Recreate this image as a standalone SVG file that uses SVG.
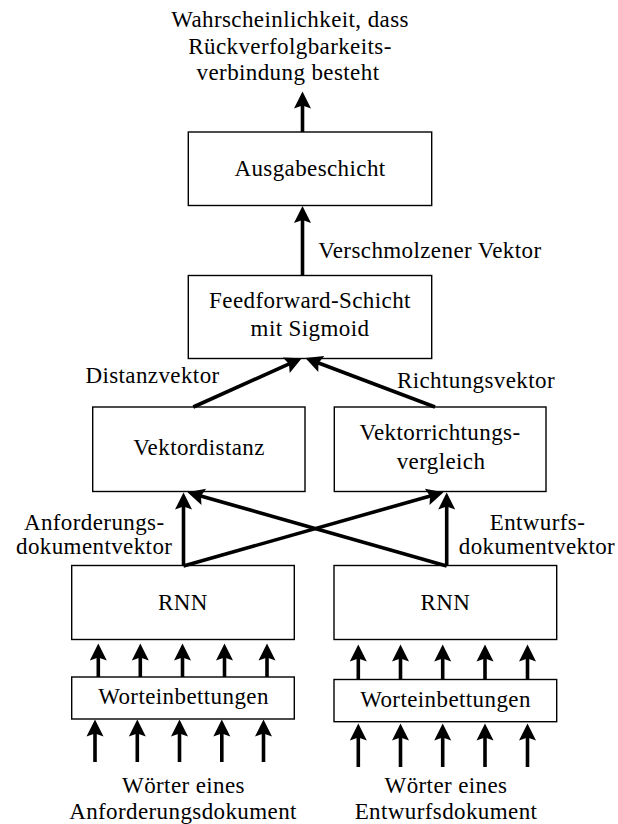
<svg xmlns="http://www.w3.org/2000/svg" width="618" height="824" viewBox="0 0 618 824">
<defs>
<marker id="ah" markerUnits="userSpaceOnUse" orient="auto" refX="0" refY="0" markerWidth="40" markerHeight="40" viewBox="-20 -20 40 40" overflow="visible">
<path d="M12,0 L-5,-8.5 L-2,0 L-5,8.5 Z" fill="#000"/>
</marker>
<style>
.box{fill:#fff;stroke:#000;stroke-width:1.4}
.t{font-family:"Liberation Serif","DejaVu Serif",serif;font-size:23px;letter-spacing:0.4px;fill:#000;text-anchor:middle}
.ts{font-family:"Liberation Serif","DejaVu Serif",serif;font-size:23px;letter-spacing:0.4px;fill:#000}
.a{stroke:#000;stroke-width:3.6;fill:none;marker-end:url(#ah)}
</style>
</defs>
<rect width="618" height="824" fill="#fff"/>

<g id="output-label">
<text class="t" x="290" y="26.7">Wahrscheinlichkeit, dass</text>
<text class="t" x="290" y="54">Rückverfolgbarkeits-</text>
<text class="t" x="288" y="80">verbindung besteht</text>
</g>

<g id="ausgabeschicht">
<rect class="box" x="188.3" y="132" width="243.4" height="73.5"/>
<text class="t" x="310" y="176">Ausgabeschicht</text>
</g>

<g id="feedforward">
<rect class="box" x="188.3" y="275.5" width="243.4" height="83"/>
<text class="t" x="310" y="308">Feedforward-Schicht</text>
<text class="t" x="310" y="336">mit Sigmoid</text>
</g>

<g id="vektordistanz">
<rect class="box" x="92.7" y="407" width="212.3" height="84.5"/>
<text class="t" x="199" y="455">Vektordistanz</text>
</g>

<g id="vektorrichtung">
<rect class="box" x="334.3" y="407" width="211.7" height="84.5"/>
<text class="t" x="440" y="440">Vektorrichtungs-</text>
<text class="t" x="441" y="468.5">vergleich</text>
</g>

<g id="rnn-links">
<rect class="box" x="71.7" y="565.5" width="222.6" height="74"/>
<text class="t" x="183" y="610">RNN</text>
</g>

<g id="rnn-rechts">
<rect class="box" x="334" y="565.5" width="222.7" height="74"/>
<text class="t" x="445.3" y="610">RNN</text>
</g>

<g id="wort-links">
<rect class="box" x="71.7" y="677" width="222.6" height="42"/>
<text class="t" x="183.5" y="704">Worteinbettungen</text>
</g>

<g id="wort-rechts">
<rect class="box" x="334" y="679.5" width="222.7" height="42.2"/>
<text class="t" x="445.5" y="707.3">Worteinbettungen</text>
</g>

<g id="input-links">
<text class="t" x="183.5" y="793.3">Wörter eines</text>
<text class="t" x="183" y="819.3">Anforderungsdokument</text>
</g>

<g id="input-rechts">
<text class="t" x="446" y="793.3">Wörter eines</text>
<text class="t" x="446" y="819.3">Entwurfsdokument</text>
</g>

<g id="connectors">
<line class="a" x1="302.5" y1="132" x2="302.5" y2="103.5"/>
<line class="a" x1="302.5" y1="275.5" x2="302.5" y2="218"/>
<line class="a" x1="193.3" y1="407" x2="290.8" y2="363.2"/>
<line class="a" x1="435" y1="407" x2="316.6" y2="362.2"/>
<line class="a" x1="183.5" y1="566" x2="183.5" y2="504.5"/>
<line class="a" x1="446.7" y1="566" x2="446.7" y2="504.5"/>
<line class="a" x1="183.5" y1="566" x2="432" y2="495.5"/>
<line class="a" x1="446.7" y1="566" x2="199" y2="495.5"/>

<line class="a" x1="98.3" y1="677" x2="98.3" y2="655.5"/>
<line class="a" x1="140.3" y1="677" x2="140.3" y2="655.5"/>
<line class="a" x1="182.5" y1="677" x2="182.5" y2="655.5"/>
<line class="a" x1="224.5" y1="677" x2="224.5" y2="655.5"/>
<line class="a" x1="267" y1="677" x2="267" y2="655.5"/>

<line class="a" x1="358.3" y1="679.5" x2="358.3" y2="656.5"/>
<line class="a" x1="400.5" y1="679.5" x2="400.5" y2="656.5"/>
<line class="a" x1="442.7" y1="679.5" x2="442.7" y2="656.5"/>
<line class="a" x1="485" y1="679.5" x2="485" y2="656.5"/>
<line class="a" x1="527.5" y1="679.5" x2="527.5" y2="656.5"/>

<line class="a" x1="95" y1="762" x2="95" y2="731.5"/>
<line class="a" x1="137.3" y1="762" x2="137.3" y2="731.5"/>
<line class="a" x1="179.5" y1="762" x2="179.5" y2="731.5"/>
<line class="a" x1="221.8" y1="762" x2="221.8" y2="731.5"/>
<line class="a" x1="263.5" y1="762" x2="263.5" y2="731.5"/>

<line class="a" x1="358.3" y1="767" x2="358.3" y2="735.5"/>
<line class="a" x1="400.5" y1="767" x2="400.5" y2="735.5"/>
<line class="a" x1="442.7" y1="767" x2="442.7" y2="735.5"/>
<line class="a" x1="485" y1="767" x2="485" y2="735.5"/>
<line class="a" x1="527.5" y1="767" x2="527.5" y2="735.5"/>

<text class="ts" x="318.3" y="258">Verschmolzener Vektor</text>
<text class="t" x="152.5" y="383.3">Distanzvektor</text>
<text class="t" x="476" y="388.3">Richtungsvektor</text>
<text class="t" x="94.2" y="530">Anforderungs-</text>
<text class="t" x="94.2" y="554">dokumentvektor</text>
<text class="t" x="537.5" y="530">Entwurfs-</text>
<text class="t" x="537" y="554">dokumentvektor</text>
</g>
</svg>
